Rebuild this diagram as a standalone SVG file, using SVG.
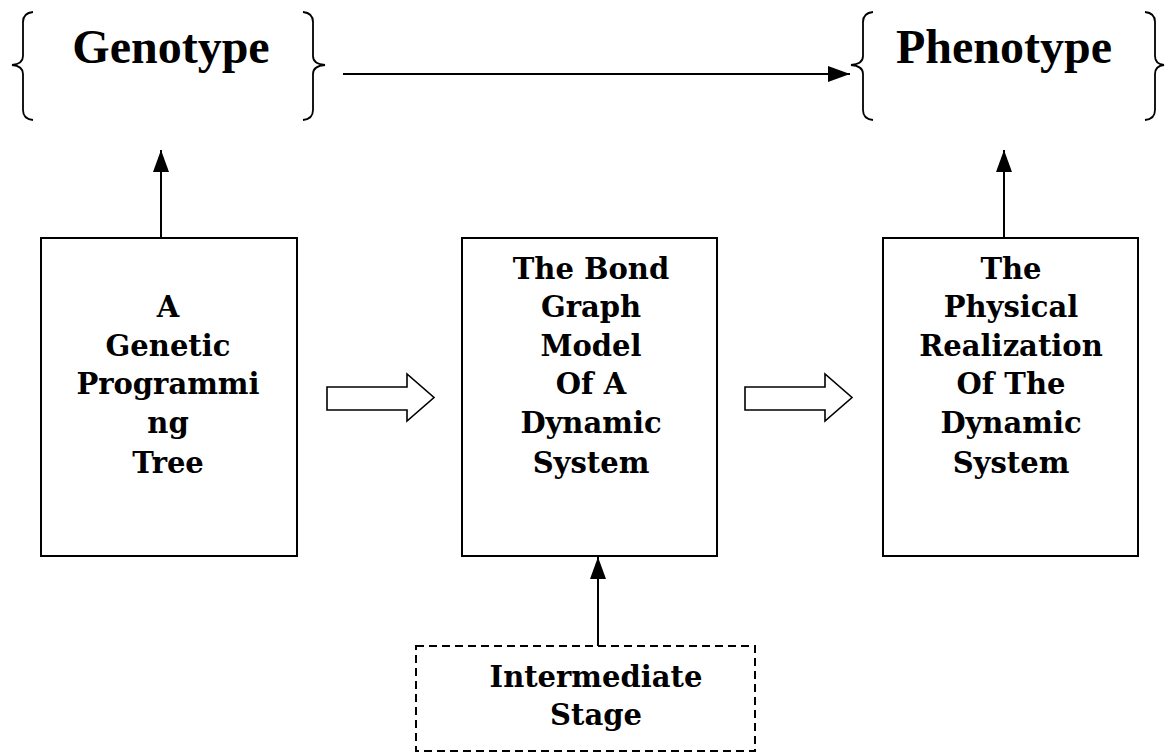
<svg xmlns="http://www.w3.org/2000/svg" width="1166" height="753" viewBox="0 0 1166 753">
<defs>
<marker id="ah" viewBox="0 0 22 16" refX="22" refY="8" markerWidth="22" markerHeight="16" markerUnits="userSpaceOnUse" orient="auto">
<path d="M0,0 L22,8 L0,16 Z" fill="#000"/>
</marker>
</defs>
<style>
.box{fill:#fff;stroke:#000;stroke-width:2}
.dash{fill:#fff;stroke:#000;stroke-width:2;stroke-dasharray:8,5}
.t{font-family:"DejaVu Serif",serif;font-weight:bold;font-size:29px;text-anchor:middle;fill:#000}
.big{font-family:"Liberation Serif","Times New Roman",serif;font-weight:bold;font-size:48px;text-anchor:middle;fill:#000}
.br{fill:none;stroke:#000;stroke-width:1.8}
.ln{fill:none;stroke:#000;stroke-width:2}
.hol{fill:#fff;stroke:#000;stroke-width:1.6}
</style>
<rect width="1166" height="753" fill="#fff"/>
<g id="genotype">
<path class="br" d="M33,12 Q23,13 23,22 L23,56 Q23,64 12,65 Q23,66 23,74 L23,110 Q23,119 33,120"/>
<path class="br" d="M303,12 Q313,13 313,22 L313,56 Q313,64 325,65 Q313,66 313,74 L313,110 Q313,119 303,120"/>
<text class="big" x="171" y="63">Genotype</text>
</g>
<g id="phenotype">
<path class="br" d="M873,12 Q863,13 863,22 L863,56 Q863,64 851,65 Q863,66 863,74 L863,110 Q863,119 873,120"/>
<path class="br" d="M1145,12 Q1155,13 1155,22 L1155,56 Q1155,64 1164,65 Q1155,66 1155,74 L1155,110 Q1155,119 1145,120"/>
<text class="big" x="1004" y="63">Phenotype</text>
</g>
<g id="gp-tree">
<rect class="box" x="41" y="238" width="256" height="318"/>
<text class="t" x="168" y="317">A</text>
<text class="t" x="168" y="356">Genetic</text>
<text class="t" x="168" y="394">Programmi</text>
<text class="t" x="168" y="433">ng</text>
<text class="t" x="168" y="473">Tree</text>
</g>
<g id="bond-graph">
<rect class="box" x="462" y="238" width="255" height="318"/>
<text class="t" x="591" y="279">The Bond</text>
<text class="t" x="591" y="317">Graph</text>
<text class="t" x="591" y="356">Model</text>
<text class="t" x="591" y="394">Of A</text>
<text class="t" x="591" y="433">Dynamic</text>
<text class="t" x="591" y="473">System</text>
</g>
<g id="physical">
<rect class="box" x="883" y="238" width="255" height="318"/>
<text class="t" x="1011" y="279">The</text>
<text class="t" x="1011" y="317">Physical</text>
<text class="t" x="1011" y="356">Realization</text>
<text class="t" x="1011" y="394">Of The</text>
<text class="t" x="1011" y="433">Dynamic</text>
<text class="t" x="1011" y="473">System</text>
</g>
<g id="intermediate">
<rect class="dash" x="416" y="646" width="339" height="105"/>
<text class="t" x="596" y="687">Intermediate</text>
<text class="t" x="596" y="725">Stage</text>
</g>
<g id="connectors">
<line class="ln" x1="343" y1="74" x2="850" y2="74" marker-end="url(#ah)"/>
<line class="ln" x1="161" y1="238" x2="161" y2="150" marker-end="url(#ah)"/>
<line class="ln" x1="1004" y1="238" x2="1004" y2="150" marker-end="url(#ah)"/>
<line class="ln" x1="598" y1="646" x2="598" y2="557" marker-end="url(#ah)"/>
<path class="hol" d="M327,387 L407,387 L407,374 L434,397.5 L407,421 L407,410 L327,410 Z"/>
<path class="hol" d="M745,387 L825,387 L825,374 L852,397.5 L825,421 L825,410 L745,410 Z"/>
</g>
</svg>
